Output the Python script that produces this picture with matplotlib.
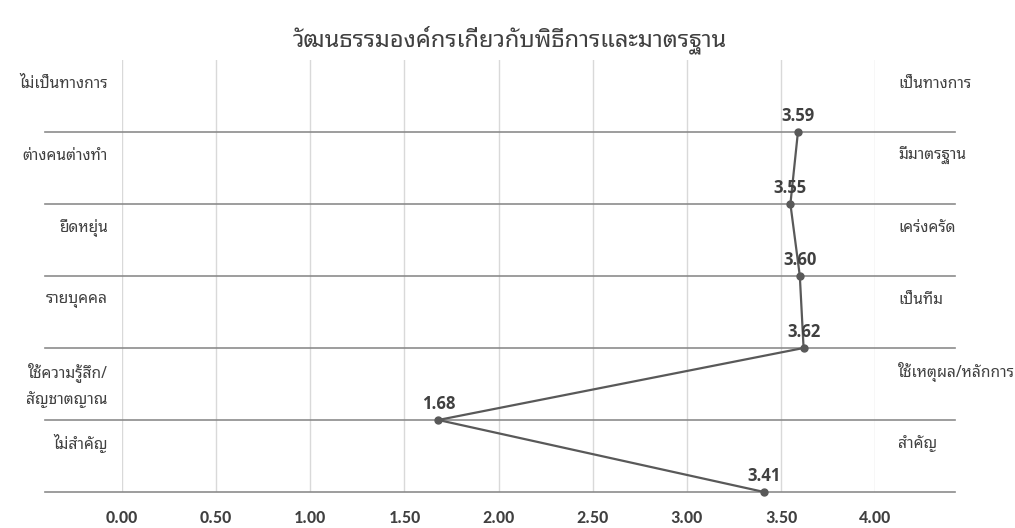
import matplotlib
matplotlib.use('Agg')
import matplotlib.pyplot as plt

title = 'วัฒนธรรมองค์กรเกี่ยวกับพิธีการและมาตรฐาน'
left_labels = ['ไม่เป็นทางการ', 'ต่างคนต่างทำ', 'ยืดหยุ่น', 'รายบุคคล',
               'ใช้ความรู้สึก/\nสัญชาตญาณ', 'ไม่สำคัญ']
right_labels = ['เป็นทางการ', 'มีมาตรฐาน', 'เคร่งครัด', 'เป็นทีม',
                'ใช้เหตุผล/หลักการ', 'สำคัญ']
scores = [3.59, 3.55, 3.60, 3.62, 1.68, 3.41]
xticks = [0.0, 0.5, 1.0, 1.5, 2.0, 2.5, 3.0, 3.5, 4.0]

thai = ['Noto Sans Thai Looped', 'Loma', 'DejaVu Sans']
num = ['Carlito', 'Roboto Condensed', 'Open Sans Condensed', 'PT Sans Narrow',
       'Archivo Narrow', 'Liberation Sans Narrow', 'Roboto']

fig = plt.figure(figsize=(10.15, 5.28), dpi=100)
ax = fig.add_axes([0.1202, 0.0682, 0.742, 0.8182])

rows = list(range(1, len(scores) + 1))

# horizontal separators stretch out under the side labels
for r in rows:
    ax.axhline(r, xmin=-0.102, xmax=1.106, color='#8c8c8c', lw=1.2,
               clip_on=False, zorder=1)

ax.plot(scores, rows, color='#595959', lw=1.6, marker='o', ms=5,
        zorder=3, clip_on=False)

for v, r in zip(scores, rows):
    ax.annotate(f'{v:.2f}', (v, r), xytext=(0, 5), textcoords='offset points',
                ha='center', va='bottom', fontsize=12, fontweight='bold',
                color='#404040', family=['Open Sans', 'DejaVu Sans'])

for i, (lt, rt) in enumerate(zip(left_labels, right_labels)):
    y = i + 0.33
    if '\n' in lt:
        ax.text(-0.0186, y - 0.13, lt, transform=ax.get_yaxis_transform(),
                ha='right', va='top', fontsize=11.2, color='#404040',
                family=thai, linespacing=1.65)
    else:
        ax.text(-0.0186, y, lt, transform=ax.get_yaxis_transform(),
                ha='right', va='center', fontsize=11.2, color='#404040',
                family=thai)
    ax.text(1.0305, y, rt, transform=ax.get_yaxis_transform(),
            ha='left', va='center', fontsize=11.2, color='#404040',
            family=thai)

ax.set_xlim(0, 4)
ax.set_ylim(6, 0)
ax.set_xticks(xticks)
ax.set_xticklabels([f'{t:.2f}' for t in xticks], fontsize=13,
                   fontweight='bold', color='#404040', family=num)
ax.set_yticks([])
ax.tick_params(axis='x', length=0, pad=13)
ax.grid(axis='x', color='#d9d9d9', lw=1)
ax.set_axisbelow(True)
for s in ax.spines.values():
    s.set_visible(False)

fig.text(0.502, 0.924, title, ha='center', va='center', fontsize=17,
         color='#404040', family=thai)

fig.savefig('out.png', dpi=100)
